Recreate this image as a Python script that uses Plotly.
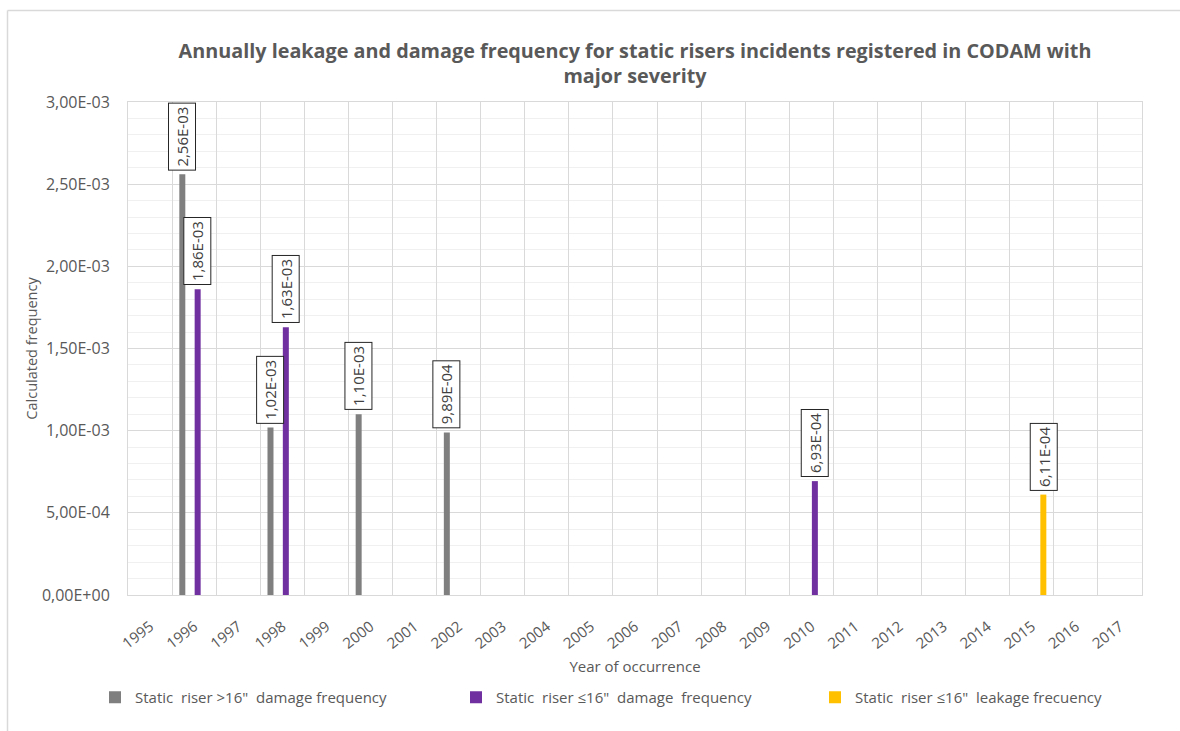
import plotly.graph_objects as go

# Years shown on the category axis
years = [str(y) for y in range(1995, 2018)]

# Series: year -> calculated frequency
big_damage_years = ["1996", "1998", "2000", "2002"]
big_damage_vals = [2.56e-3, 1.02e-3, 1.10e-3, 9.89e-4]

small_damage_years = ["1996", "1998", "2010"]
small_damage_vals = [1.86e-3, 1.63e-3, 6.93e-4]

small_leak_years = ["2015"]
small_leak_vals = [6.11e-4]

# y tick values and their labels (comma decimal, Excel-style exponent)
y_tickvals = [0, 5e-4, 1e-3, 1.5e-3, 2e-3, 2.5e-3, 3e-3]
y_ticktext = ["0,00E+00", "5,00E-04", "1,00E-03", "1,50E-03",
              "2,00E-03", "2,50E-03", "3,00E-03"]

FONT = "Open Sans"
TXT = "#595959"
GRID = "#D9D9D9"

W, H = 1180, 731
ML, MR, MT, MB = 128, 38, 102, 136
plot_w = W - ML - MR
plot_h = H - MT - MB
cat_px = plot_w / len(years)

BAR_W = 0.136  # bar width in category units
series = [
    dict(name='Static  riser >16"  damage frequency', x=big_damage_years,
         y=big_damage_vals, color="#7F7F7F", center=-0.268,
         legend="legend", legend_x=95),
    dict(name='Static  riser ≤16"  damage  frequency', x=small_damage_years,
         y=small_damage_vals, color="#7030A0", center=0.08,
         legend="legend2", legend_x=456),
    dict(name='Static  riser ≤16"  leakage frecuency', x=small_leak_years,
         y=small_leak_vals, color="#FFC000", center=0.262,
         legend="legend3", legend_x=815),
]

fig = go.Figure()
annotations = []
legends = {}


def fmt(v):
    s = f"{v:.2E}"
    mant, exp = s.split("E")
    sign = exp[0]
    e = int(exp[1:])
    return f"{mant.replace('.', ',')}E{sign}{e:02d}"


for s in series:
    fig.add_trace(go.Bar(
        x=s["x"], y=s["y"], name=s["name"], legend=s["legend"],
        showlegend=True,
        marker=dict(color=s["color"], line=dict(width=0)),
        width=BAR_W, offset=s["center"] - BAR_W / 2,
    ))
    legends[s["legend"]] = dict(
        orientation="h", x=s["legend_x"] / W, xref="container", xanchor="left",
        y=1 - 681 / H, yref="container", yanchor="top",
        font=dict(family=FONT, size=15, color=TXT),
        itemwidth=30, bgcolor="rgba(0,0,0,0)",
    )
    # value labels: rotated boxes sitting just above each bar
    for xv, yv in zip(s["x"], s["y"]):
        annotations.append(dict(
            x=years.index(xv), y=yv, xref="x", yref="y",
            xshift=s["center"] * cat_px, yshift=4,
            text=fmt(yv), textangle=-90, showarrow=False,
            xanchor="center", yanchor="bottom",
            font=dict(family=FONT, size=15, color="#404040"),
            bgcolor="white", bordercolor="#262626", borderwidth=1, borderpad=3,
        ))

fig.update_layout(
    width=W, height=H,
    margin=dict(l=ML, r=MR, t=MT, b=MB, autoexpand=False),
    paper_bgcolor="white", plot_bgcolor="white",
    barmode="overlay",
    showlegend=True,
    font=dict(family=FONT, color=TXT, size=15),
    title=dict(
        text="<b>Annually leakage and damage frequency for static risers incidents registered in CODAM with<br>major severity</b>",
        x=0.5, xref="paper", xanchor="center",
        y=1 - 57.5 / H, yref="container", yanchor="middle",
        font=dict(family=FONT, size=19.8, color=TXT),
    ),
    xaxis=dict(
        type="category", categoryorder="array", categoryarray=years,
        tickvals=years, range=[-0.5, len(years) - 0.5], automargin=False,
        tickson="boundaries", showgrid=True, gridcolor=GRID, gridwidth=1,
        showline=True, linecolor=GRID, mirror=True, ticks="",
        tickangle=-38, ticklabelstandoff=16,
        tickfont=dict(family=FONT, size=15, color=TXT),
        title=dict(text="Year of occurrence", standoff=9,
                   font=dict(family=FONT, size=15, color=TXT)),
        zeroline=False,
    ),
    yaxis=dict(
        range=[0, 3e-3], tickvals=y_tickvals, ticktext=y_ticktext,
        automargin=False,
        showgrid=True, gridcolor=GRID, gridwidth=1,
        minor=dict(dtick=1e-4, showgrid=True, gridcolor="#F0F0F0", gridwidth=1),
        showline=True, linecolor=GRID, mirror=True, ticks="",
        ticklabelstandoff=14,
        tickfont=dict(family=FONT, size=16, color=TXT),
        title=dict(text="Calculated frequency", standoff=0,
                   font=dict(family=FONT, size=14.5, color=TXT)),
        zeroline=False,
    ),
    annotations=annotations,
    shapes=[
        # outer chart frame (top and left edges)
        dict(type="line", xref="paper", yref="paper",
             x0=(7.5 - ML) / plot_w, x1=(W + 20 - ML) / plot_w,
             y0=(H - MB - 10.5) / plot_h, y1=(H - MB - 10.5) / plot_h,
             line=dict(color=GRID, width=1.5)),
        dict(type="line", xref="paper", yref="paper",
             x0=(7.5 - ML) / plot_w, x1=(7.5 - ML) / plot_w,
             y0=(H - MB - 10.5) / plot_h, y1=-1,
             line=dict(color=GRID, width=1.5)),
    ],
    **legends,
)

fig.write_html("out.html")
